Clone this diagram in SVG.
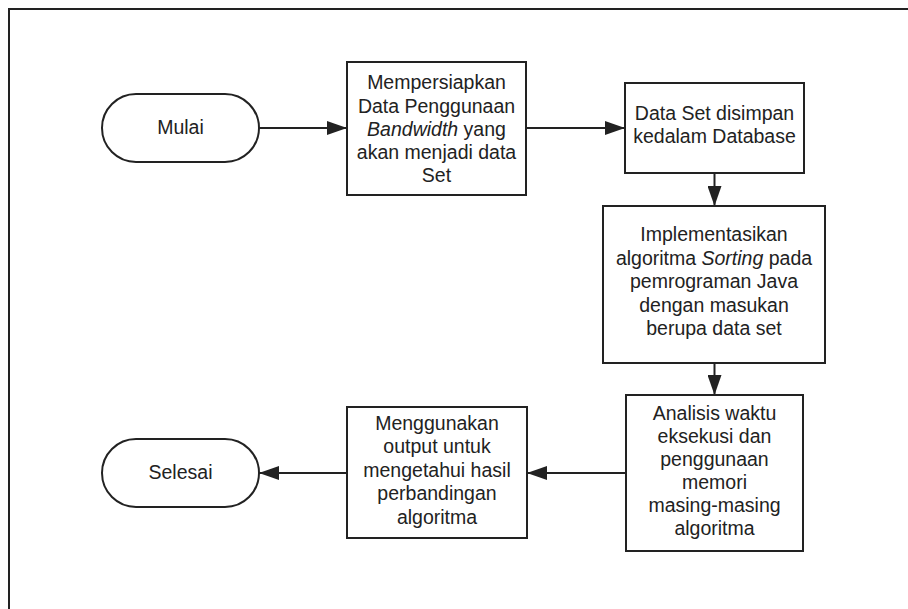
<svg xmlns="http://www.w3.org/2000/svg" width="908" height="609" viewBox="0 0 908 609">
<style>
.shape{fill:#fff;stroke:#222;stroke-width:2}
.conn{fill:none;stroke:#222;stroke-width:2;marker-end:url(#arrow)}
text{font-family:"Liberation Sans",Arial,sans-serif;font-size:19.5px;fill:#222;text-anchor:middle}
.it{font-style:italic}
</style>
<defs>
<marker id="arrow" markerUnits="userSpaceOnUse" markerWidth="20" markerHeight="14" refX="20" refY="7" orient="auto">
<path d="M0,0 L20,7 L0,14 z" fill="#222"/>
</marker>
</defs>
<rect width="908" height="609" fill="#fff"/>
<path d="M9,609 V9 H908" fill="none" stroke="#222" stroke-width="2"/>
<g id="connectors">
<path class="conn" d="M259,128 H347"/>
<path class="conn" d="M526,128 H625"/>
<path class="conn" d="M714.5,173 V206"/>
<path class="conn" d="M714.5,363 V395"/>
<path class="conn" d="M626,473 H527"/>
<path class="conn" d="M347,473 H259"/>
</g>
<g id="mulai">
<rect class="shape" x="102" y="94" width="157" height="68" rx="34" ry="34"/>
<text x="180.5" y="134">Mulai</text>
</g>
<g id="persiapan">
<rect class="shape" x="347" y="62" width="179" height="133"/>
<text x="436.5" y="89">Mempersiapkan</text>
<text x="436.5" y="112.5">Data Penggunaan</text>
<text x="436.5" y="136"><tspan class="it">Bandwidth</tspan> yang</text>
<text x="436.5" y="159">akan menjadi data</text>
<text x="436.5" y="182">Set</text>
</g>
<g id="simpan">
<rect class="shape" x="625" y="83" width="179" height="90"/>
<text x="714.5" y="120">Data Set disimpan</text>
<text x="714.5" y="143">kedalam Database</text>
</g>
<g id="implementasi">
<rect class="shape" x="603" y="206" width="222" height="157"/>
<text x="714" y="241">Implementasikan</text>
<text x="714" y="264.5">algoritma <tspan class="it">Sorting</tspan> pada</text>
<text x="714" y="288">pemrograman Java</text>
<text x="714" y="311.5">dengan masukan</text>
<text x="714" y="335">berupa data set</text>
</g>
<g id="analisis">
<rect class="shape" x="626" y="395" width="177" height="156"/>
<text x="714.5" y="419.5">Analisis waktu</text>
<text x="714.5" y="443">eksekusi dan</text>
<text x="714.5" y="466">penggunaan</text>
<text x="714.5" y="489">memori</text>
<text x="714.5" y="512">masing-masing</text>
<text x="714.5" y="535">algoritma</text>
</g>
<g id="output">
<rect class="shape" x="347" y="407" width="180" height="131"/>
<text x="437" y="429.5">Menggunakan</text>
<text x="437" y="453">output untuk</text>
<text x="437" y="477">mengetahui hasil</text>
<text x="437" y="500">perbandingan</text>
<text x="437" y="523.5">algoritma</text>
</g>
<g id="selesai">
<rect class="shape" x="102" y="439" width="157" height="68" rx="34" ry="34"/>
<text x="180.5" y="479">Selesai</text>
</g>
</svg>
